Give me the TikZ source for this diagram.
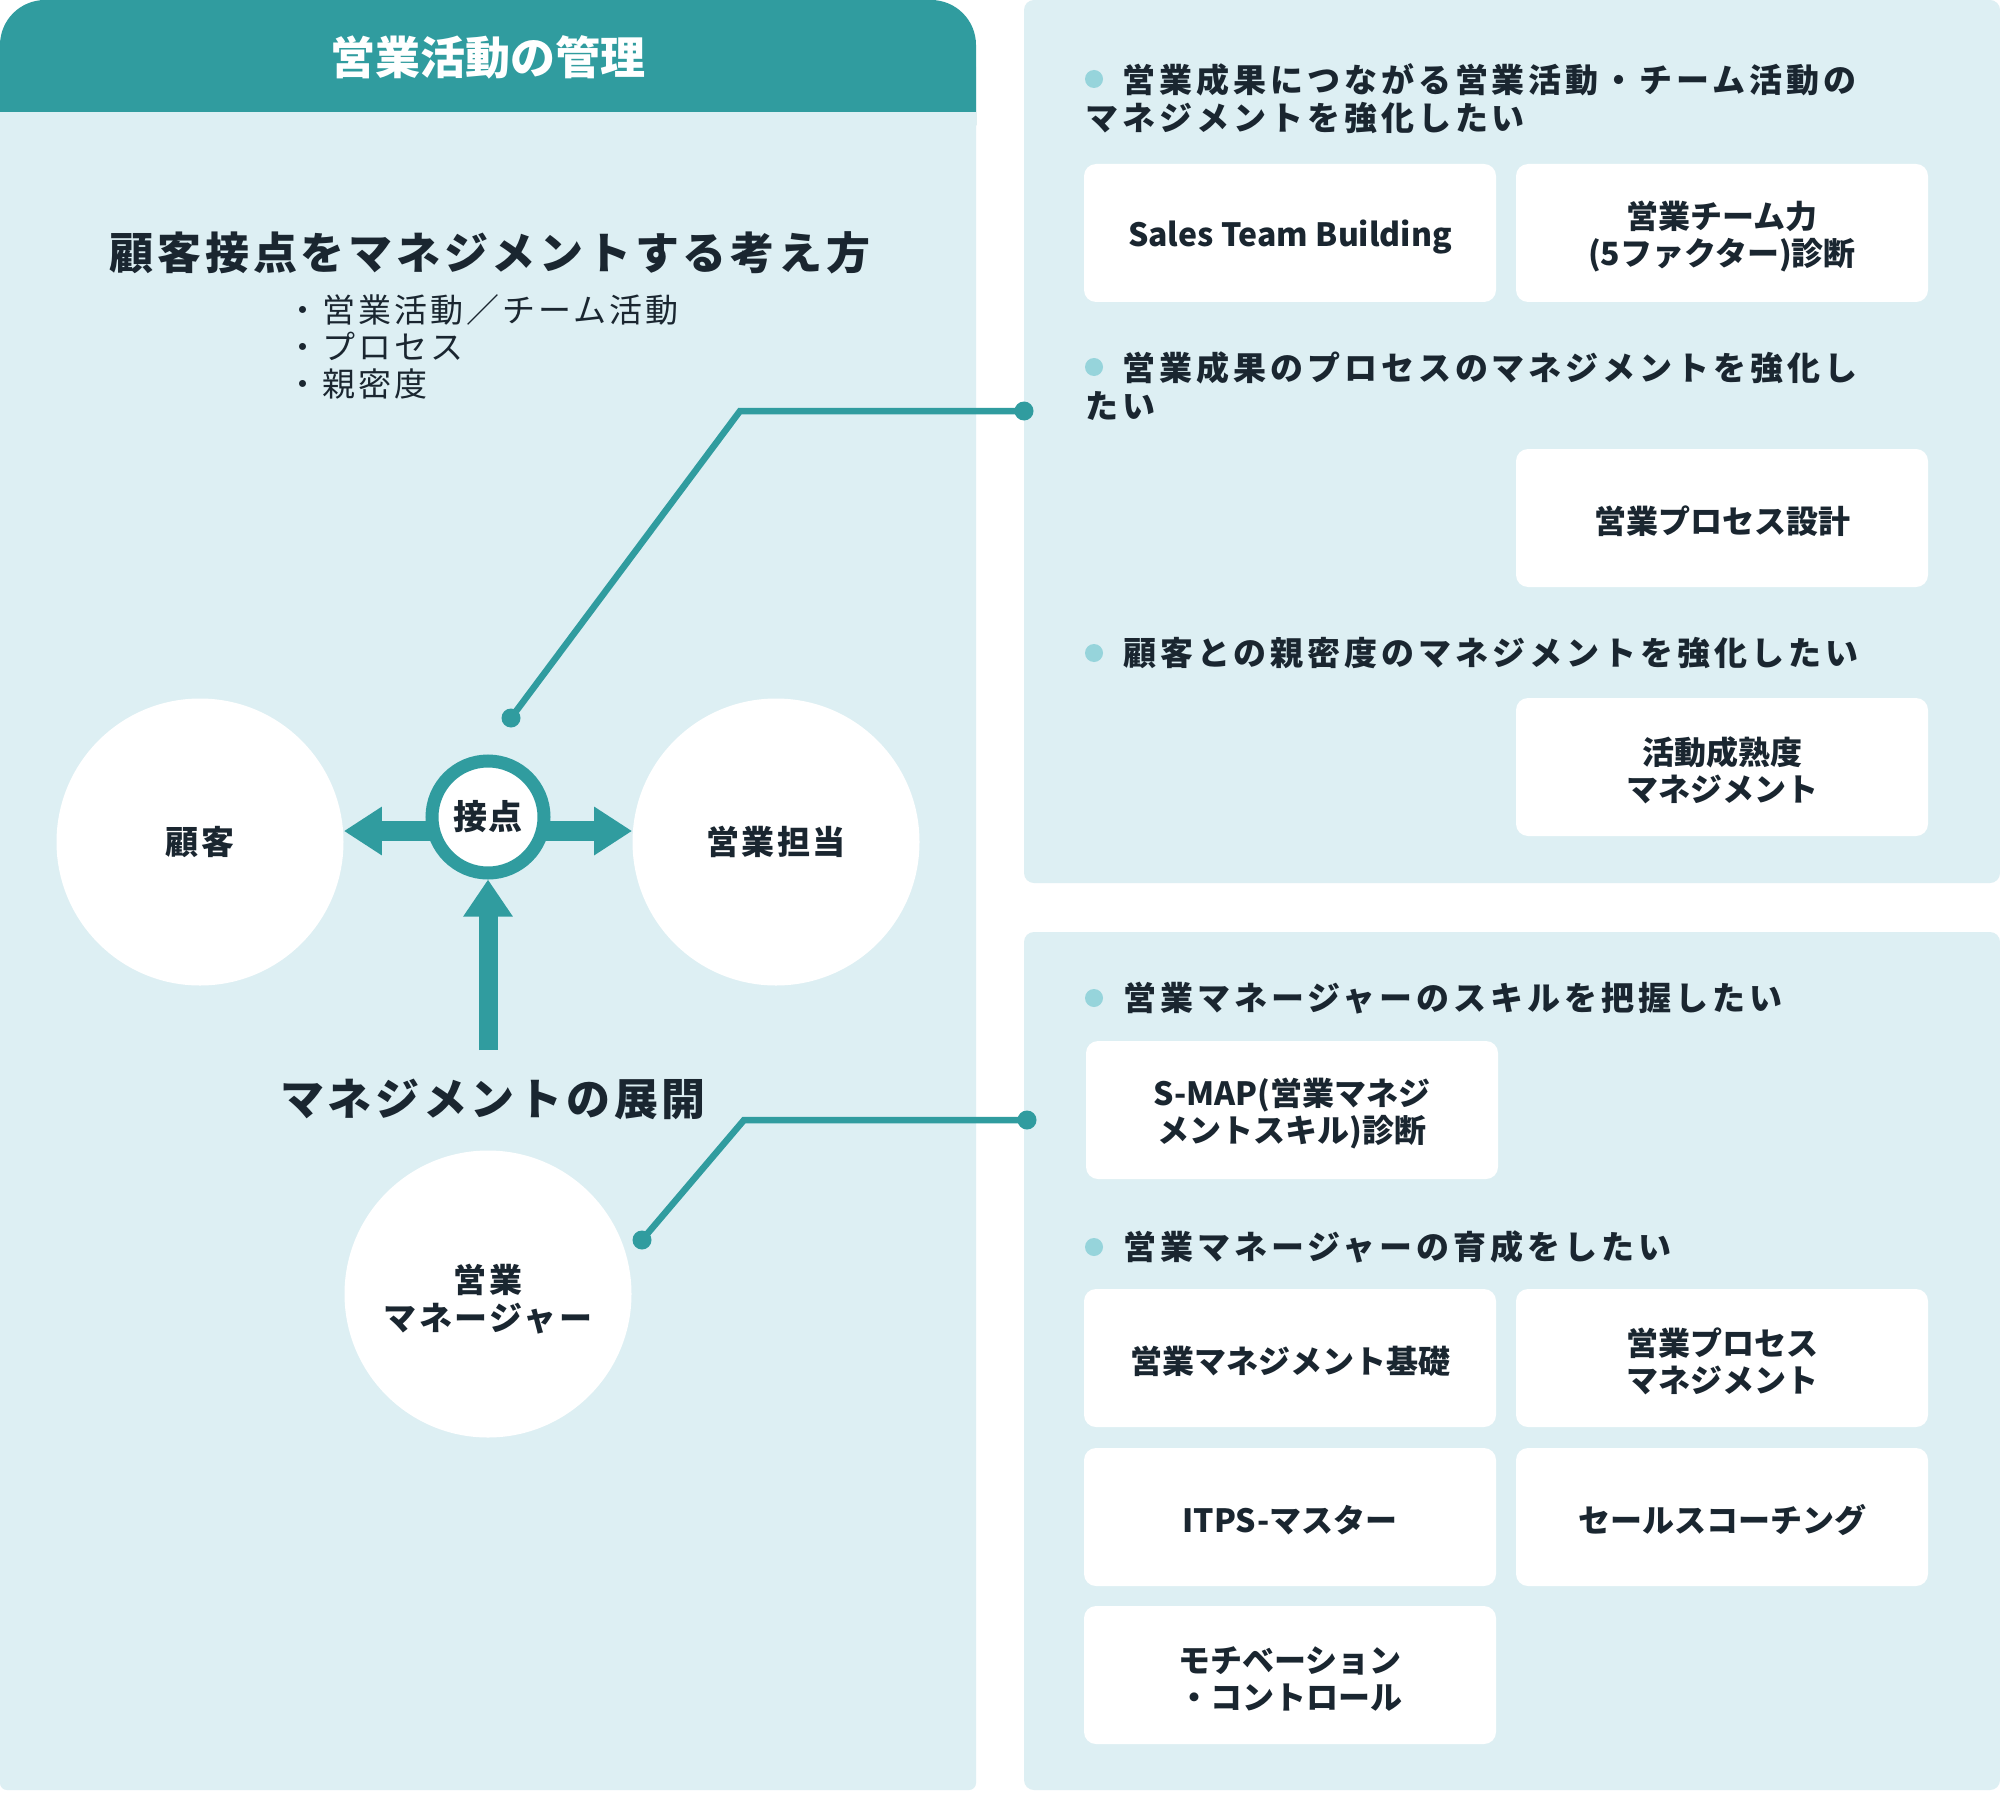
\documentclass[tikz,border=0pt]{standalone}
\usepackage{fontspec}
\setmainfont{Noto Sans CJK JP}
\usetikzlibrary{arrows.meta}
\definecolor{teal1}{HTML}{309C9F}
\definecolor{panelbg}{HTML}{DDEFF3}
\definecolor{bulletc}{HTML}{96D4DB}
\definecolor{ink}{HTML}{1A2630}
\pgfdeclarelayer{bglayer}
\pgfdeclarelayer{arrowlayer}
\pgfsetlayers{bglayer,arrowlayer,main}
\begin{document}
\begin{tikzpicture}[x=0.5pt,y=-0.5pt,
  panel/.style={fill=panelbg, rounded corners=5pt},
  bigcircle/.style={circle, fill=white, minimum size=143.5pt, inner sep=0pt, text=ink, align=center,
    font=\bfseries\fontsize{16.5pt}{19pt}\selectfont\addfontfeatures{LetterSpace=8}},
  ring/.style={circle, draw=teal1, line width=6.5pt, fill=white, minimum size=56pt, inner sep=0pt, text=ink,
    font=\bfseries\fontsize{17pt}{19pt}\selectfont\addfontfeatures{LetterSpace=3}},
  bigarrow/.style={draw=teal1, line width=10pt, -{Triangle[length=19pt,width=23pt]}},
  uparrow/.style={draw=teal1, line width=9.5pt, -{Triangle[length=18.5pt,width=23.5pt]}},
  conn/.style={draw=teal1, line width=3.25pt},
  cdot/.style={circle, fill=teal1, minimum size=9.5pt, inner sep=0pt},
  bdot/.style={circle, fill=bulletc, minimum size=9pt, inner sep=0pt},
  head/.style={anchor=west, inner sep=0pt, text=ink, align=left,
    font=\bfseries\fontsize{16.5pt}{19pt}\selectfont\addfontfeatures{LetterSpace=12}},
  box/.style={fill=white, rounded corners=6pt, minimum width=206pt, minimum height=69pt, inner sep=0pt,
    align=center, text=ink, font=\bfseries\fontsize{16pt}{18.5pt}\selectfont},
  bigtitle/.style={text=ink, inner sep=0pt, font=\bfseries\fontsize{22pt}{24pt}\selectfont\addfontfeatures{LetterSpace=8.5}}
]
\useasboundingbox (0,0) rectangle (2000,1792);
\begin{pgfonlayer}{bglayer}
  \fill[white] (0,0) rectangle (2000,1792);
  % left panel
  \fill[fill=panelbg, rounded corners=3.5pt] (0,60) rectangle (976,1790);
  \fill[fill=teal1, rounded corners=22.5pt] (0,0) rectangle (976,170);
  \fill[fill=panelbg] (0,112) rectangle (976,220);
  % right panels
  \fill[panel] (1024,0) rectangle (2000,883);
  \fill[panel] (1024,932) rectangle (2000,1790);
\end{pgfonlayer}

% header
\node[text=white, inner sep=0pt, font=\bfseries\fontsize{22.5pt}{24pt}\selectfont] (hdr) at (488,57) {営業活動の管理};

% left texts
\node[bigtitle] (ttl) at (490,253) {顧客接点をマネジメントする考え方};
\node[anchor=west, inner sep=0pt, text=ink, align=left,
  font=\fontsize{16.5pt}{18.5pt}\selectfont\addfontfeatures{LetterSpace=9}] (lst) at (286,347)
  {・営業活動／チーム活動\\・プロセス\\・親密度};
\node[bigtitle] (dev) at (493,1099) {マネジメントの展開};

% circles
\node[bigcircle] (cust) at (200,842) {顧客};
\node[bigcircle] (rep) at (776,842) {営業担当};
\node[bigcircle] (mgr) at (488,1294) {\rule{0pt}{19.5pt}営業\\マネージャー};
\node[ring] (tp) at (488,817) {接点};

% arrows
\begin{pgfonlayer}{arrowlayer}
  \coordinate (lstart) at (470,831);
  \draw[bigarrow] (lstart) -- (lstart -| cust.east);
  \coordinate (rstart) at (506,831);
  \draw[bigarrow] (rstart) -- (rstart -| rep.west);
  \coordinate (ustart) at (488,1050);
  \draw[uparrow] (ustart) -- (tp.south);
\end{pgfonlayer}

% connectors
\node[cdot] (d1) at (511,718) {};
\node[cdot] (d2) at (1024,411) {};
\coordinate (k1) at (740,411);
\draw[conn] (d1.center) -- (k1) -- (d2.center);
\node[cdot] (d3) at (642,1240) {};
\node[cdot] (d4) at (1027,1120) {};
\coordinate (k2) at (744,1120);
\draw[conn] (d3.center) -- (k2) -- (d4.center);

% right headings
\node[bdot] (b1) at (1094,79) {};
\node[head] (h1) at (1085,99) {\hspace*{18.5pt}営業成果につながる営業活動・チーム活動の\\マネジメントを強化したい};
\node[bdot] (b2) at (1094,367) {};
\node[head] (h2) at (1085,386) {\hspace*{18.5pt}営業成果のプロセスのマネジメントを強化し\\たい};
\node[bdot] (b3) at (1094,653) {};
\node[head] (h3) at (1123,653) {顧客との親密度のマネジメントを強化したい};
\node[bdot] (b4) at (1094,998) {};
\node[head] (h4) at (1123,998) {営業マネージャーのスキルを把握したい};
\node[bdot] (b5) at (1094,1247) {};
\node[head] (h5) at (1123,1247) {営業マネージャーの育成をしたい};

% boxes
\node[box] (sb1) at (1290,233) {\rule{0pt}{17pt}Sales Team Building};
\node[box] (sb2) at (1722,233) {\rule{0pt}{17pt}営業チーム力\\(5ファクター)診断};
\node[box] (sb3) at (1722,518) {\rule{0pt}{17pt}営業プロセス設計};
\node[box] (sb4) at (1722,767) {\rule{0pt}{17pt}活動成熟度\\マネジメント};
\node[box] (sb5) at (1292,1110) {\rule{0pt}{17pt}S-MAP(営業マネジ\\メントスキル)診断};
\node[box] (sb6) at (1290,1358) {\rule{0pt}{17pt}営業マネジメント基礎};
\node[box] (sb7) at (1722,1358) {\rule{0pt}{17pt}営業プロセス\\マネジメント};
\node[box] (sb8) at (1290,1517) {\rule{0pt}{17pt}ITPS-マスター};
\node[box] (sb9) at (1722,1517) {\rule{0pt}{17pt}セールスコーチング};
\node[box] (sb10) at (1290,1675) {\rule{0pt}{17pt}モチベーション\\・コントロール};
\end{tikzpicture}
\end{document}
